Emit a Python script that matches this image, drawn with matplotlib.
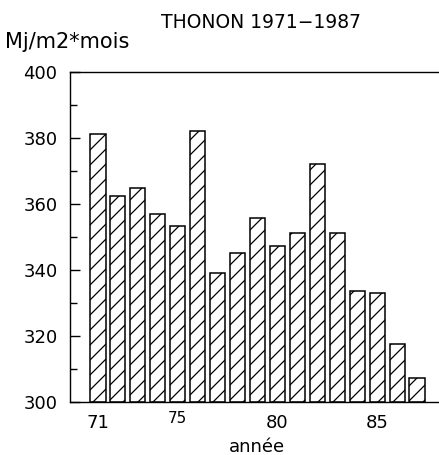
import matplotlib.pyplot as plt
from matplotlib.ticker import MultipleLocator

# Rayonnement global moyen, Thonon 1971-1987
annees = [71, 72, 73, 74, 75, 76, 77, 78, 79, 80, 81, 82, 83, 84, 85, 86, 87]
valeurs = [381.2, 362.5, 364.8, 357.0, 353.4, 382.1, 339.2, 345.0, 355.8,
           347.3, 351.1, 372.2, 351.2, 333.7, 333.1, 317.7, 307.4]
xticks = [71, 75, 80, 85]
yticks = [300, 320, 340, 360, 380, 400]

# dpi chosen so the '//' hatch spacing is ~15 px; sizes scaled back with k
DPI = 90
k = 100 / DPI

plt.rcParams['font.family'] = ['DejaVu Sans']
plt.rcParams['hatch.linewidth'] = 0.9 * k

fig = plt.figure(figsize=(439 / DPI, 455 / DPI), dpi=DPI)
ax = fig.add_axes([0.1595, 0.1165, 0.8405, 0.7253])

ax.bar(annees, [v - 300 for v in valeurs], bottom=300, width=0.76,
       facecolor='white', edgecolor='black', linewidth=1.1 * k, hatch='//')

ax.set_xlim(69.6, 88.1)
ax.set_ylim(300, 400)
ax.set_yticks(yticks)
ax.yaxis.set_minor_locator(MultipleLocator(10))
ax.tick_params(axis='y', which='major', direction='in', length=7 * k, width=k,
               labelsize=13 * k, pad=9 * k)
ax.tick_params(axis='y', which='minor', direction='in', length=5 * k, width=k)
ax.set_xticks(xticks)
ax.set_xticklabels([str(t) for t in xticks])
ax.tick_params(axis='x', length=0, labelsize=13 * k, pad=9 * k)
for lab in ax.get_xticklabels():
    if lab.get_text() == '75':
        lab.set_fontsize(11 * k)
        lab.set_y(0.01)

ax.spines['right'].set_visible(False)
for s in ['left', 'top', 'bottom']:
    ax.spines[s].set_linewidth(1.0 * k)

fig.text(261 / 439, 1 - 22 / 455, 'THONON 1971\u22121987', ha='center', va='center',
         fontsize=13.5 * k)
fig.text(5 / 439, 1 - 42 / 455, 'Mj/m2*mois', ha='left', va='center',
         fontsize=15 * k)
fig.text(257 / 439, 1 - 447 / 455, 'année', ha='center', va='center',
         fontsize=13 * k)

fig.savefig('out.png', dpi=DPI)
